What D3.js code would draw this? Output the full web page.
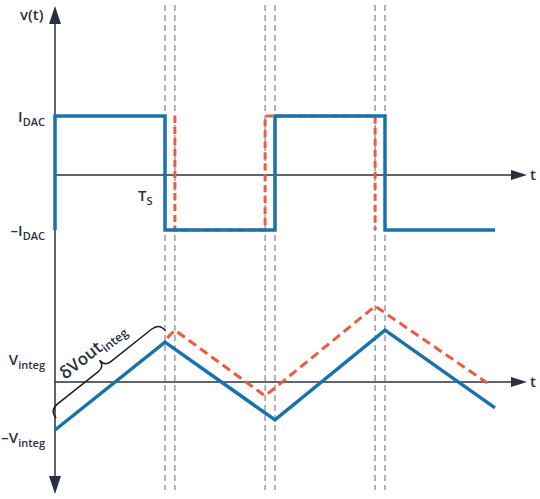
<!DOCTYPE html>
<html><head><meta charset="utf-8">
<script src="https://cdn.jsdelivr.net/npm/d3@7"></script>
<style>body{margin:0;background:#fff}text{font-family:"Open Sans",sans-serif;font-weight:600;fill:#2b3040}</style>
</head><body>
<svg id="chart" width="540" height="499"></svg>
<script>
// time in units of Ts
var dashTimes = [1, 1.09, 1.91, 2.0, 2.91, 3.0];
// square wave (I_DAC units)
var sqBlue = [[0,-1],[0,1],[1,1],[1,-1],[2,-1],[2,1],[3,1],[3,-1],[4,-1]];
var sqRed = [[1.09,1],[1.09,-1],[1.91,-1],[1.91,1],[2.91,1],[2.91,-1]];
// integrator output (V_integ units)
var triBlue = [[0,-1],[1,0.83],[2,-0.79],[3,1.08],[4,-0.54]];
var triRed = [[1.02,0.92],[1.09,1.08],[1.91,-0.29],[2.91,1.58],[3.93,-0.02]];

var svg = d3.select("#chart");
var x = d3.scaleLinear().domain([0,4]).range([55,495]);
var yTop = d3.scaleLinear().domain([-1,1]).range([230,116]);
var yBot = d3.scaleLinear().domain([-1,1]).range([430,334]);
var axisCol = "#2b3040", blue = "#1a72ad", red = "#ef5b40";

// dashed guides
svg.selectAll(".guide").data(dashTimes).enter().append("line")
  .attr("x1", d => x(d)).attr("x2", d => x(d)).attr("y1", 5).attr("y2", 490)
  .attr("stroke", "#8a8d96").attr("stroke-width", 1.3).attr("stroke-dasharray", "6,4");

// axes
function arrow(x1,y1,x2,y2){
  svg.append("line").attr("x1",x1).attr("y1",y1).attr("x2",x2).attr("y2",y2)
    .attr("stroke",axisCol).attr("stroke-width",1.5);
}
arrow(55,20,55,480);
svg.append("path").attr("d","M55,6 L49,24 L61,24 Z").attr("fill",axisCol);
svg.append("path").attr("d","M55,494 L49,476 L61,476 Z").attr("fill",axisCol);
[yTop(0)+2, yBot(0)].forEach(function(yy){
  arrow(55,yy,515,yy);
  svg.append("path").attr("d","M527,"+yy+" L511,"+(yy-5)+" L511,"+(yy+5)+" Z").attr("fill",axisCol);
  svg.append("text").attr("x",530).attr("y",yy+5).attr("font-size",15).text("t");
});

var lt = d3.line().x(d => x(d[0])).y(d => yTop(d[1]));
var lb = d3.line().x(d => x(d[0])).y(d => yBot(d[1]));
svg.append("path").attr("d", lt(sqRed)).attr("fill","none").attr("stroke",red).attr("stroke-width",3).attr("stroke-dasharray","7,4");
svg.append("path").attr("d", lt(sqBlue)).attr("fill","none").attr("stroke",blue).attr("stroke-width",3.5);
svg.append("path").attr("d", lb(triRed)).attr("fill","none").attr("stroke",red).attr("stroke-width",3).attr("stroke-dasharray","9,5");
svg.append("path").attr("d", lb(triBlue)).attr("fill","none").attr("stroke",blue).attr("stroke-width",3.5);

// labels
function lab(tx,ty,main,sub,anchor){
  var t = svg.append("text").attr("x",tx).attr("y",ty).attr("font-size",15).attr("text-anchor",anchor||"end");
  t.append("tspan").text(main);
  if(sub) t.append("tspan").attr("font-size",11).attr("dy",4).text(sub);
}
svg.append("text").attr("x",20).attr("y",20).attr("font-size",15).text("v(t)");
lab(45,122,"I","DAC");
lab(45,236,"\u2013I","DAC");
lab(45,365,"V","integ");
lab(45,443,"\u2013V","integ");
lab(138,201,"T","S","start");

// brace along rising ramp
var g = svg.append("g").attr("transform","translate(56,418) rotate(-38.5)");
var L = 140;
g.append("path").attr("fill","none").attr("stroke","#1d1d22").attr("stroke-width",1.5)
  .attr("d","M0,0 Q0,-10 10,-10 L"+(L/2-8)+",-10 Q"+(L/2)+",-10 "+(L/2)+",-18 Q"+(L/2)+",-10 "+(L/2+8)+",-10 L"+(L-10)+",-10 Q"+L+",-10 "+L+",0");
var tt = g.append("text").attr("x",L/2).attr("y",-24).attr("text-anchor","middle").attr("font-size",17);
tt.append("tspan").text("\u03B4Vout");
tt.append("tspan").attr("font-size",12).attr("dy",4).text("integ");
</script>
</body></html>
